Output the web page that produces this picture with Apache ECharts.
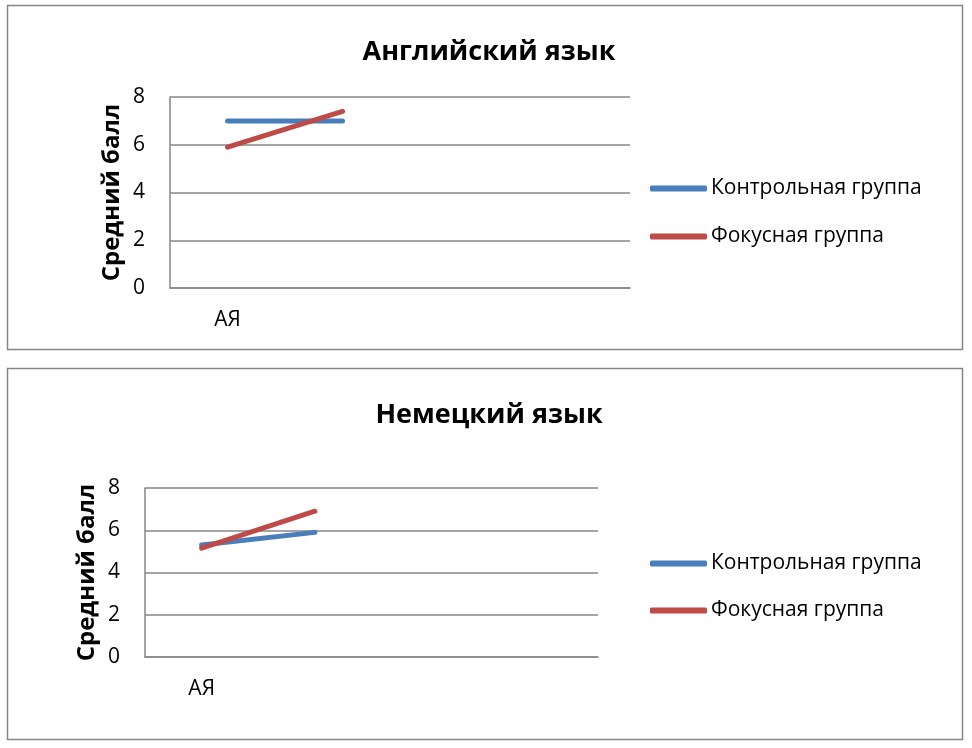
<!DOCTYPE html>
<html>
<head>
<meta charset="utf-8">
<script src="https://cdn.jsdelivr.net/npm/echarts@6/dist/echarts.min.js"></script>
<style>
html,body{margin:0;padding:0;background:#fff;}
#c{width:972px;height:748px;}
</style>
</head>
<body>
<div id="c"></div>
<script>
const categories = ['АЯ', '', '', ''];
const seriesNames = ['Контрольная группа', 'Фокусная группа'];
const englishControl = [7.0, 7.0];
const englishFocus = [5.9, 7.4];
const germanControl = [5.3, 5.9];
const germanFocus = [5.15, 6.9];
const yTicks = { min: 0, max: 8, interval: 2 };
const titles = ['Английский язык', 'Немецкий язык'];
const yName = 'Средний балл';

const FONT = '"Open Sans", "Noto Sans", sans-serif';
const GRAY = '#868686';
const BLUE = '#4A7EBB';
const RED = '#BE4B48';

const chart = echarts.init(document.getElementById('c'), null, { renderer: 'canvas' });

function xAxis(gi) {
  return {
    type: 'category', gridIndex: gi, data: categories, boundaryGap: true,
    axisLine: { show: true, lineStyle: { color: GRAY, width: 1.5 } },
    axisTick: { show: false },
    axisLabel: { interval: 0, color: '#000', fontFamily: FONT, fontSize: 21, margin: 22 }
  };
}
function yAxis(gi) {
  return {
    type: 'value', gridIndex: gi, min: yTicks.min, max: yTicks.max, interval: yTicks.interval,
    name: yName, nameLocation: 'middle', nameGap: 46, nameRotate: 90,
    nameTextStyle: { color: '#000', fontFamily: FONT, fontSize: 24, fontWeight: 'bold' },
    axisLine: { show: true, lineStyle: { color: GRAY, width: 1.5 } },
    axisTick: { show: false },
    splitLine: { show: true, lineStyle: { color: GRAY, width: 1.5 } },
    axisLabel: { color: '#000', fontFamily: FONT, fontSize: 21, margin: 25 }
  };
}
function line(name, data, color, gi) {
  return {
    type: 'line', name: name, data: data, xAxisIndex: gi, yAxisIndex: gi,
    symbol: 'none', lineStyle: { color: color, width: 5, cap: 'round' },
    itemStyle: { color: color }
  };
}

chart.setOption({
  animation: false,
  backgroundColor: '#fff',
  graphic: [
    { type: 'rect', shape: { x: 7.5, y: 5.5, width: 955, height: 344 }, style: { fill: 'none', stroke: GRAY, lineWidth: 1.5 } },
    { type: 'rect', shape: { x: 7.5, y: 368.5, width: 955, height: 371 }, style: { fill: 'none', stroke: GRAY, lineWidth: 1.5 } }
  ],
  title: [
    { text: titles[0], left: 484, top: 34, textAlign: 'center',
      textStyle: { fontFamily: FONT, fontSize: 27, fontWeight: 'bold', color: '#000' } },
    { text: titles[1], left: 484, top: 397, textAlign: 'center',
      textStyle: { fontFamily: FONT, fontSize: 27, fontWeight: 'bold', color: '#000' } }
  ],
  legend: [
    { orient: 'vertical', left: 645, top: 173, itemWidth: 57, itemHeight: 6, itemGap: 27,
      icon: 'roundRect', data: seriesNames,
      textStyle: { fontFamily: FONT, fontSize: 21, color: '#000', padding: [0,0,0,-1] } },
    { orient: 'vertical', left: 645, top: 548, itemWidth: 57, itemHeight: 6, itemGap: 26,
      icon: 'roundRect', data: seriesNames,
      textStyle: { fontFamily: FONT, fontSize: 21, color: '#000', padding: [0,0,0,-1] } }
  ],
  grid: [
    { left: 170, right: 342, top: 97, bottom: 460 },
    { left: 145, right: 374, top: 488, bottom: 91 }
  ],
  xAxis: [xAxis(0), xAxis(1)],
  yAxis: [yAxis(0), yAxis(1)],
  series: [
    line(seriesNames[0], englishControl, BLUE, 0),
    line(seriesNames[1], englishFocus, RED, 0),
    line(seriesNames[0], germanControl, BLUE, 1),
    line(seriesNames[1], germanFocus, RED, 1)
  ]
});
</script>
</body>
</html>
